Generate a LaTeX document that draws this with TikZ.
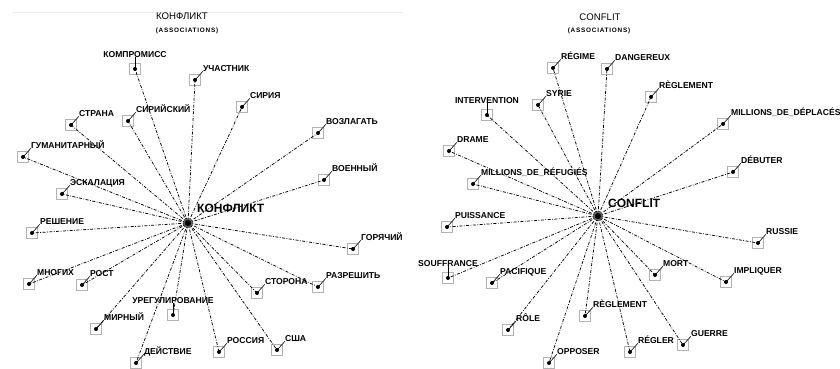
\documentclass[tikz,border=0pt]{standalone}
\usepackage{fontspec}
\setmainfont{Liberation Sans}
\newfontfamily\spacedsans[LetterSpace=12]{Liberation Sans}
\usetikzlibrary{positioning}

\tikzset{
  assocbox/.style={draw=gray!60, line width=0.8pt, minimum size=11pt, inner sep=0pt},
  assoclabel/.style={font=\fontsize{8.6}{9}\selectfont\bfseries, inner sep=0pt, text depth=0pt},
  assocedge/.style={line width=0.75pt, dash pattern=on 3pt off 1.5pt on 0.8pt off 1.5pt},
  tickline/.style={line width=0.6pt},
  hub/.style={circle, fill=black, minimum size=4pt, inner sep=0pt},
  hublabel/.style={font=\fontsize{12}{14}\selectfont\bfseries, inner sep=0pt, anchor=base west},
  titletext/.style={font=\fontsize{9.6}{11}\selectfont, inner sep=0pt, anchor=base},
  subtitle/.style={font=\spacedsans\fontsize{6.4}{7}\selectfont\bfseries, inner sep=0pt, anchor=base},
}

\begin{document}
\begin{tikzpicture}[x=1pt, y=-1pt]
    \useasboundingbox (0,0) rectangle (840,369);
    \draw [gray!15] (12,12) -- (403,12);

    % russian panel
    \node [titletext] (ktitle) at (182,19.5) {КОНФЛИКТ};
    \node [subtitle] (ksub) at (187,33) {(ASSOCIATIONS)};
    \fill [black!60] (188,223) circle (5pt);
    \node [hub] (kc) at (188,223) {};
    \node [hublabel] (kc-l) at ([shift={(9pt,11pt)}]kc.center) {КОНФЛИКТ};

    \foreach \n/\x/\y/\t in {k1/195/80/УЧАСТНИК, k2/242/107/СИРИЯ, k3/128/121/СИРИЙСКИЙ,
        k4/71/125/СТРАНА, k5/318/133/ВОЗЛАГАТЬ, k6/23/157/ГУМАНИТАРНЫЙ, k7/324/180/ВОЕННЫЙ,
        k8/62/194/ЭСКАЛАЦИЯ, k9/32/233/РЕШЕНИЕ, k10/353/249/ГОРЯЧИЙ, k11/29/284/МНОГИХ,
        k12/82/285/РОСТ, k13/257/293/СТОРОНА, k14/318/287/РАЗРЕШИТЬ, k15/96/329/МИРНЫЙ,
        k16/136/363/ДЕЙСТВИЕ, k17/219/352/РОССИЯ, k18/277/350/США} {
      \node [assocbox] (\n) at (\x,\y) {};
      \node [assoclabel, anchor=base west] (\n-l) at ([shift={(2pt,3pt)}]\n.north east) {\t};
      \draw [tickline] (\n.center) -- (\n-l.south west);
      \fill (\n.center) circle (2pt);
      \draw [assocedge] (kc.center) -- (\n.center);
    }
    \foreach \n/\x/\y/\t in {k19/135/69/КОМПРОМИСС, k20/173/315/УРЕГУЛИРОВАНИЕ} {
      \node [assocbox] (\n) at (\x,\y) {};
      \node [assoclabel, anchor=base] (\n-l) at ([yshift=6pt]\n.north) {\t};
      \draw [tickline] (\n.center) -- (\n-l.south);
      \fill (\n.center) circle (2pt);
      \draw [assocedge] (kc.center) -- (\n.center);
    }

    % french panel
    \node [titletext] (ctitle) at (600,20.5) {CONFLIT};
    \node [subtitle] (csub) at (599,33) {(ASSOCIATIONS)};
    \fill [black!60] (598,216) circle (5pt);
    \node [hub] (cc) at (598,216) {};
    \node [hublabel] (cc-l) at ([shift={(10pt,9pt)}]cc.center) {CONFLIT};

    \foreach \n/\x/\y/\t in {c1/553/68/RÉGIME, c2/607/69/DANGEREUX, c3/651/97/RÈGLEMENT,
        c4/538/105/SYRIE, c5/723/124/MILLIONS\_DE\_DÉPLACÉS, c6/449/151/DRAME,
        c7/733/172/DÉBUTER, c8/473/184/MILLIONS\_DE\_RÉFUGIÉS, c9/447/227/PUISSANCE,
        c10/758/243/RUSSIE, c11/492/283/PACIFIQUE, c12/655/275/MORT, c13/726/282/IMPLIQUER,
        c14/585/316/RÈGLEMENT, c15/508/330/RÔLE, c16/683/345/GUERRE, c17/630/352/RÉGLER,
        c18/549/363/OPPOSER} {
      \node [assocbox] (\n) at (\x,\y) {};
      \node [assoclabel, anchor=base west] (\n-l) at ([shift={(2pt,3pt)}]\n.north east) {\t};
      \draw [tickline] (\n.center) -- (\n-l.south west);
      \fill (\n.center) circle (2pt);
      \draw [assocedge] (cc.center) -- (\n.center);
    }
    \foreach \n/\x/\y/\t in {c19/487/115/INTERVENTION, c20/448/278/SOUFFRANCE} {
      \node [assocbox] (\n) at (\x,\y) {};
      \node [assoclabel, anchor=base] (\n-l) at ([yshift=6pt]\n.north) {\t};
      \draw [tickline] (\n.center) -- (\n-l.south);
      \fill (\n.center) circle (2pt);
      \draw [assocedge] (cc.center) -- (\n.center);
    }
\end{tikzpicture}
\end{document}
